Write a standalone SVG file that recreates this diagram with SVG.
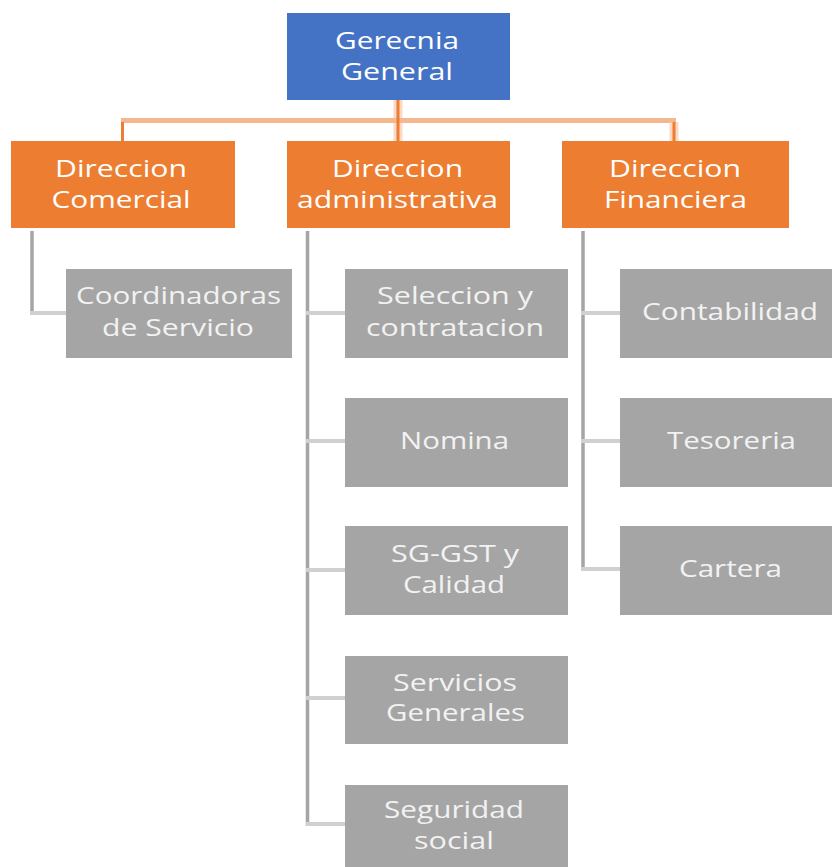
<svg xmlns="http://www.w3.org/2000/svg" width="832" height="867" viewBox="0 0 832 867">
<style>
text{font-family:"Open Sans","DejaVu Sans",sans-serif;font-size:23px;fill:#ffffff;text-anchor:middle}
.gt{fill:#f2f2f2}
.blue{fill:#4472C4}
.orange{fill:#ED7D31}
.gray{fill:#A5A5A5}
.ov{stroke:#ED7D31;stroke-width:3;fill:none}
.oh{stroke:#F5B88E;stroke-width:5;fill:none}
.halo{stroke:#F8CBAD;stroke-width:9;fill:none;opacity:0.7}
.gv{stroke:#A5A5A5;stroke-width:3.5;fill:none}
.gh{stroke:#D0D0D0;stroke-width:4;fill:none}
</style>
<rect width="832" height="867" fill="#ffffff"/>
<g id="connectors">
  <line class="halo" x1="398" y1="100" x2="398" y2="141"/>
  <line class="oh" x1="121" y1="120.5" x2="676" y2="120.5"/>
  <line class="ov" x1="398" y1="100" x2="398" y2="141"/>
  <line class="ov" x1="122.5" y1="122" x2="122.5" y2="141"/>
  <line class="halo" x1="674" y1="122" x2="674" y2="141"/>
  <line class="ov" x1="674" y1="122" x2="674" y2="141"/>
  <line class="gv" x1="32" y1="231" x2="32" y2="315"/>
  <line class="gh" x1="30" y1="313" x2="66" y2="313"/>
  <line class="gv" x1="307.5" y1="231" x2="307.5" y2="826"/>
  <line class="gh" x1="306" y1="313" x2="345" y2="313"/>
  <line class="gh" x1="306" y1="441" x2="345" y2="441"/>
  <line class="gh" x1="306" y1="570" x2="345" y2="570"/>
  <line class="gh" x1="306" y1="698" x2="345" y2="698"/>
  <line class="gh" x1="306" y1="824" x2="345" y2="824"/>
  <line class="gv" x1="583" y1="231" x2="583" y2="571"/>
  <line class="gh" x1="581" y1="313" x2="620" y2="313"/>
  <line class="gh" x1="581" y1="441" x2="620" y2="441"/>
  <line class="gh" x1="581" y1="569" x2="620" y2="569"/>
</g>
<g id="gerencia">
  <rect class="blue" x="287" y="13" width="223" height="87"/>
  <text x="397" y="49" textLength="124" lengthAdjust="spacingAndGlyphs">Gerecnia</text>
  <text x="397" y="80" textLength="112" lengthAdjust="spacingAndGlyphs">General</text>
</g>
<g id="dir-comercial">
  <rect class="orange" x="11" y="141" width="224" height="87"/>
  <text x="121" y="177" textLength="132" lengthAdjust="spacingAndGlyphs">Direccion</text>
  <text x="121" y="208" textLength="139" lengthAdjust="spacingAndGlyphs">Comercial</text>
</g>
<g id="dir-administrativa">
  <rect class="orange" x="287" y="141" width="223" height="87"/>
  <text x="397.5" y="177" textLength="131" lengthAdjust="spacingAndGlyphs">Direccion</text>
  <text x="397.5" y="208" textLength="201" lengthAdjust="spacingAndGlyphs">administrativa</text>
</g>
<g id="dir-financiera">
  <rect class="orange" x="562" y="141" width="227" height="87"/>
  <text x="675" y="177" textLength="132" lengthAdjust="spacingAndGlyphs">Direccion</text>
  <text x="675.5" y="208" textLength="143" lengthAdjust="spacingAndGlyphs">Financiera</text>
</g>
<g id="coordinadoras">
  <rect class="gray" x="66" y="269" width="226" height="89"/>
  <text class="gt" x="178.5" y="304" textLength="205" lengthAdjust="spacingAndGlyphs">Coordinadoras</text>
  <text class="gt" x="178" y="336" textLength="152" lengthAdjust="spacingAndGlyphs">de Servicio</text>
</g>
<g id="seleccion">
  <rect class="gray" x="345" y="269" width="223" height="89"/>
  <text class="gt" x="455" y="304" textLength="156" lengthAdjust="spacingAndGlyphs">Seleccion y</text>
  <text class="gt" x="455" y="336" textLength="178" lengthAdjust="spacingAndGlyphs">contratacion</text>
</g>
<g id="nomina">
  <rect class="gray" x="345" y="398" width="223" height="89"/>
  <text class="gt" x="454.5" y="449" textLength="109" lengthAdjust="spacingAndGlyphs">Nomina</text>
</g>
<g id="sg-gst">
  <rect class="gray" x="345" y="526" width="223" height="89"/>
  <text class="gt" x="455" y="562" textLength="128" lengthAdjust="spacingAndGlyphs">SG-GST y</text>
  <text class="gt" x="454" y="593" textLength="102" lengthAdjust="spacingAndGlyphs">Calidad</text>
</g>
<g id="servicios">
  <rect class="gray" x="345" y="656" width="223" height="88"/>
  <text class="gt" x="455" y="691" textLength="124" lengthAdjust="spacingAndGlyphs">Servicios</text>
  <text class="gt" x="455.5" y="721" textLength="139" lengthAdjust="spacingAndGlyphs">Generales</text>
</g>
<g id="seguridad">
  <rect class="gray" x="345" y="785" width="223" height="89"/>
  <text class="gt" x="454" y="818" textLength="140" lengthAdjust="spacingAndGlyphs">Seguridad</text>
  <text class="gt" x="454" y="849" textLength="80" lengthAdjust="spacingAndGlyphs">social</text>
</g>
<g id="contabilidad">
  <rect class="gray" x="620" y="269" width="220" height="89"/>
  <text class="gt" x="730" y="320" textLength="176" lengthAdjust="spacingAndGlyphs">Contabilidad</text>
</g>
<g id="tesoreria">
  <rect class="gray" x="620" y="398" width="220" height="89"/>
  <text class="gt" x="731.5" y="449" textLength="129" lengthAdjust="spacingAndGlyphs">Tesoreria</text>
</g>
<g id="cartera">
  <rect class="gray" x="620" y="526" width="220" height="89"/>
  <text class="gt" x="730.5" y="577" textLength="103" lengthAdjust="spacingAndGlyphs">Cartera</text>
</g>
</svg>
